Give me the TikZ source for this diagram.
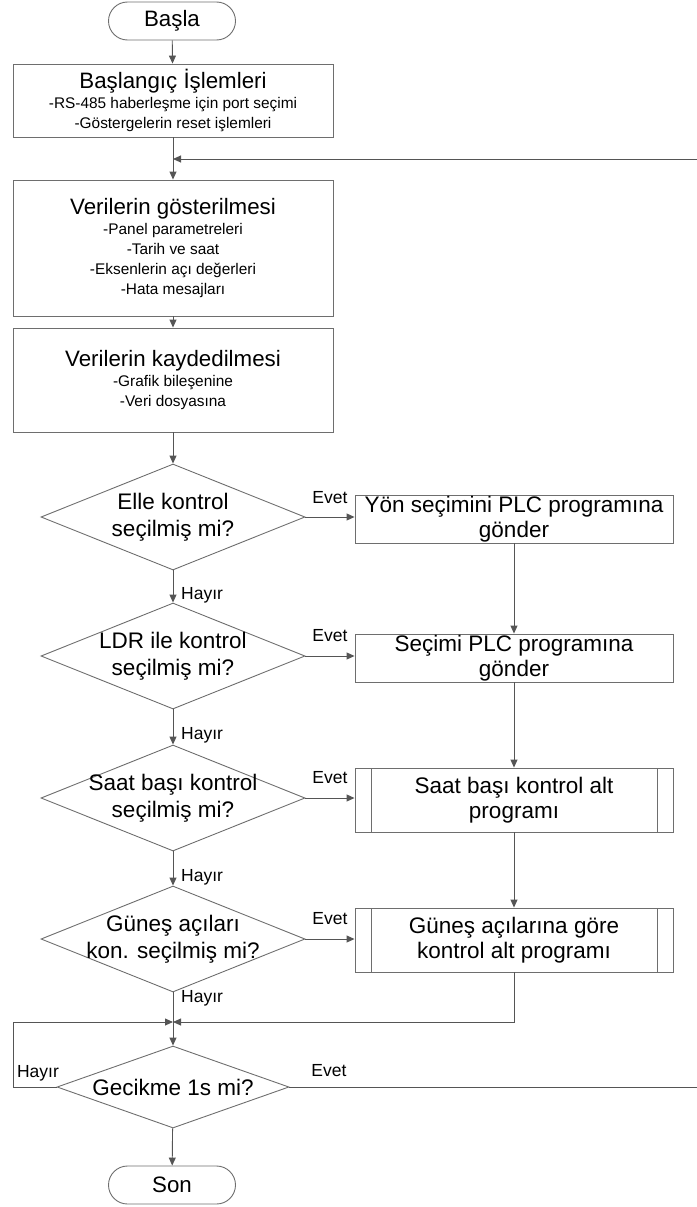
\documentclass[tikz,border=0pt]{standalone}
\usepackage{fontspec}
\setmainfont{Liberation Sans}
\usetikzlibrary{arrows.meta,shapes.geometric}
\definecolor{cizgi}{RGB}{85,85,85}
\definecolor{kenar}{RGB}{110,110,110}
\newcommand{\baslik}[1]{{\fontsize{22.3}{21}\selectfont #1}}

\begin{document}
\begin{tikzpicture}[x=1pt,y=-1pt]
    \tikzstyle{ok}=[draw=cizgi,line width=0.9pt,-{Triangle[length=8pt,width=7pt]}]
    \tikzstyle{uc}=[draw=kenar,line width=0.9pt,rounded corners=19pt,minimum width=127pt,minimum height=38pt,font=\fontsize{22.3}{25}\selectfont]
    \tikzstyle{islem}=[draw=kenar,line width=0.9pt,rectangle,minimum width=320pt,inner sep=0pt,align=center,font=\fontsize{15.4}{20}\selectfont]
    \tikzstyle{kutu}=[draw=kenar,line width=0.9pt,rectangle,minimum width=318pt,minimum height=48pt,inner sep=0pt,align=center,font=\fontsize{22.5}{25}\selectfont]
    \tikzstyle{altprogram}=[kutu,minimum height=64pt,path picture={
        \draw[kenar,line width=0.9pt] ([xshift=16pt]path picture bounding box.north west) -- ([xshift=16pt]path picture bounding box.south west);
        \draw[kenar,line width=0.9pt] ([xshift=-16pt]path picture bounding box.north east) -- ([xshift=-16pt]path picture bounding box.south east);}]
    \tikzstyle{karar}=[draw=kenar,line width=0.9pt,diamond,aspect=2.47,inner xsep=-40pt,inner ysep=-12pt,minimum width=264pt,minimum height=106pt,align=center,font=\fontsize{22.5}{27}\selectfont]
    \tikzstyle{etiket}=[inner sep=1pt,font=\fontsize{17.5}{19}\selectfont]
    \useasboundingbox (0,0) rectangle (696,1207);

    % ana akis
    \node[uc] (basla) at (172,21) {Başla};
    \node[islem,minimum height=73pt] (baslangic) at (173,100.5) {\baslik{Başlangıç İşlemleri}\\-RS-485 haberleşme için port seçimi\\-Göstergelerin reset işlemleri};
    \node[islem,minimum height=136pt] (goster) at (173,248) {\baslik{Verilerin gösterilmesi}\\-Panel parametreleri\\-Tarih ve saat\\-Eksenlerin açı değerleri\\-Hata mesajları};
    \node[islem,minimum height=104pt] (kayit) at (173,380) {\baslik{Verilerin kaydedilmesi}\\-Grafik bileşenine\\-Veri dosyasına};
    \node[karar] (elle) at (173,517) {Elle kontrol\\seçilmiş mi?};
    \node[karar] (ldr) at (173,656) {LDR ile kontrol\\seçilmiş mi?};
    \node[karar] (saatk) at (173,798) {Saat başı kontrol\\seçilmiş mi?};
    \node[karar] (gunesk) at (173,939) {Güneş açıları\\kon. seçilmiş mi?};
    \node[karar,minimum width=232pt,minimum height=82pt] (gecikme) at (173,1087) {Gecikme 1s mi?};
    \node[uc] (son) at (172,1185) {Son};

    % sag sutun
    \node[kutu] (yon) at (514,519) {Yön seçimini PLC programına\\gönder};
    \node[kutu] (secim) at (514,658) {Seçimi PLC programına\\gönder};
    \node[altprogram] (saatp) at (514,800) {Saat başı kontrol alt\\programı};
    \node[altprogram] (gunesp) at (514,940) {Güneş açılarına göre\\kontrol alt programı};

    \coordinate (donus) at (173,159);
    \coordinate (sag) at (697,159);
    \coordinate (kavsak) at (173,1022);
    \coordinate (sol) at (13,1022);

    \draw[ok] (basla) -- (baslangic);
    \draw[ok] (baslangic) -- (goster);
    \draw[ok] (goster) -- (kayit);
    \draw[ok] (kayit) -- (elle);
    \draw[ok] (elle) -- (ldr);
    \draw[ok] (ldr) -- (saatk);
    \draw[ok] (saatk) -- (gunesk);
    \draw[ok] (gunesk) -- (gecikme);
    \draw[ok] (gecikme) -- (son);
    \draw[ok] (elle.east) -- (elle.east -| yon.west);
    \draw[ok] (ldr.east) -- (ldr.east -| secim.west);
    \draw[ok] (saatk.east) -- (saatk.east -| saatp.west);
    \draw[ok] (gunesk.east) -- (gunesk.east -| gunesp.west);
    \draw[ok] (yon) -- (secim);
    \draw[ok] (secim) -- (saatp);
    \draw[ok] (saatp) -- (gunesp);
    \draw[ok] (gunesp.south) |- (kavsak);
    \draw[ok] (gecikme.west) -| (sol) -- (kavsak);
    \draw[ok] (gecikme.east) -| (sag) -- (donus);

    % etiketler
    \node[etiket] (evet1) at (330,498) {Evet};
    \node[etiket] (evet2) at (330,636) {Evet};
    \node[etiket] (evet3) at (330,778) {Evet};
    \node[etiket] (evet4) at (330,919) {Evet};
    \node[etiket] (evet5) at (329,1071) {Evet};
    \node[etiket,anchor=west] (hayir1) at (180,595) {Hayır};
    \node[etiket,anchor=west] (hayir2) at (180,735) {Hayır};
    \node[etiket,anchor=west] (hayir3) at (180,877) {Hayır};
    \node[etiket,anchor=west] (hayir4) at (180,998) {Hayır};
    \node[etiket] (hayir5) at (38,1073) {Hayır};
\end{tikzpicture}
\end{document}
